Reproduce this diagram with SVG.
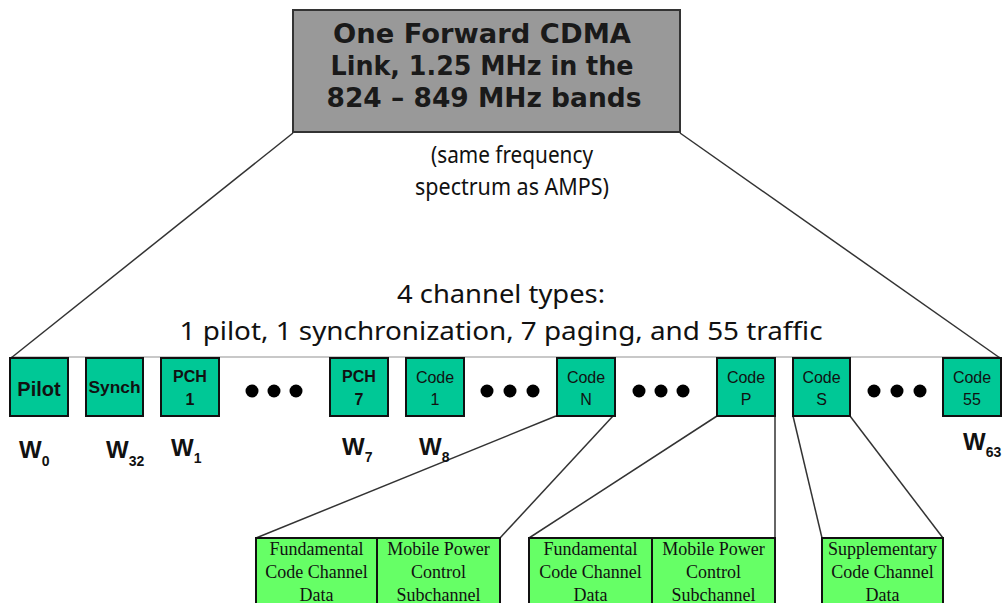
<svg xmlns="http://www.w3.org/2000/svg" width="1007" height="603" viewBox="0 0 1007 603">
  <defs>
    <style>
      .bg { fill: #ffffff; }
      .link-box { fill: #999999; stroke: #333333; stroke-width: 2; }
      .link-text { font-family: "DejaVu Sans", Verdana, sans-serif; font-weight: bold; font-size: 26px; fill: #1a1a1a; text-anchor: middle; }
      .note { font-family: "Noto Sans", "DejaVu Sans", sans-serif; fill: #111111; text-anchor: middle; }
      .ch { fill: #00c896; stroke: #111111; stroke-width: 2; }
      .ch-bold { font-family: "Liberation Sans", Arial, sans-serif; font-weight: bold; fill: #111111; text-anchor: middle; }
      .ch-code { font-family: "Liberation Sans", Arial, sans-serif; font-size: 16px; fill: #111111; text-anchor: middle; }
      .dot { fill: #000000; }
      .walsh { font-family: "Liberation Sans", Arial, sans-serif; font-weight: bold; font-size: 24px; fill: #111111; }
      .sub { fill: #66ff66; stroke: #111111; stroke-width: 2; }
      .sub-text { font-family: "Liberation Serif", "Times New Roman", serif; font-size: 18px; fill: #111111; text-anchor: middle; }
      .wire { fill: none; stroke: #333333; stroke-width: 1.5; }
      .rail { fill: none; stroke: #c8c8c8; stroke-width: 2; }
    </style>
  </defs>

  <rect class="bg" x="0" y="0" width="1007" height="603"/>

  <!-- fan-out lines -->
  <g id="connectors">
    <line class="rail" x1="11" y1="357" x2="1000" y2="357"/>
    <line class="wire" x1="293" y1="133" x2="11" y2="358"/>
    <line class="wire" x1="680" y1="133" x2="1000" y2="358"/>
    <line class="wire" x1="556" y1="416" x2="256" y2="538"/>
    <line class="wire" x1="613" y1="416" x2="500" y2="538"/>
    <line class="wire" x1="717" y1="416" x2="529" y2="538"/>
    <line class="wire" x1="775" y1="416" x2="775" y2="538"/>
    <line class="wire" x1="793" y1="416" x2="822" y2="538"/>
    <line class="wire" x1="850" y1="416" x2="943" y2="538"/>
  </g>

  <!-- forward link carrier -->
  <g id="forward-link">
    <rect class="link-box" x="293" y="10" width="387" height="122"/>
    <text class="link-text" x="482" y="43" textLength="298" lengthAdjust="spacingAndGlyphs">One Forward CDMA</text>
    <text class="link-text" x="482" y="75" textLength="303" lengthAdjust="spacingAndGlyphs">Link, 1.25 MHz in the</text>
    <text class="link-text" x="484" y="107" textLength="315" lengthAdjust="spacingAndGlyphs">824 – 849 MHz bands</text>
  </g>

  <g id="spectrum-note">
    <text class="note" x="512" y="163" font-size="23" textLength="162" lengthAdjust="spacingAndGlyphs">(same frequency</text>
    <text class="note" x="512" y="195" font-size="23" textLength="194" lengthAdjust="spacingAndGlyphs">spectrum as AMPS)</text>
  </g>

  <g id="channel-summary">
    <text class="note" x="501" y="303" font-size="26" textLength="208" lengthAdjust="spacingAndGlyphs">4 channel types:</text>
    <text class="note" x="501" y="340" font-size="26" textLength="643" lengthAdjust="spacingAndGlyphs">1 pilot, 1 synchronization, 7 paging, and 55 traffic</text>
  </g>

  <!-- code channels -->
  <g id="pilot">
    <rect class="ch" x="10" y="358" width="58" height="58"/>
    <text class="ch-bold" x="39" y="396" font-size="20">Pilot</text>
  </g>
  <g id="synch">
    <rect class="ch" x="86" y="358" width="57" height="58"/>
    <text class="ch-bold" x="114.5" y="393" font-size="16" textLength="52" lengthAdjust="spacingAndGlyphs">Synch</text>
  </g>
  <g id="pch-1">
    <rect class="ch" x="161" y="358" width="58" height="58"/>
    <text class="ch-bold" x="190" y="382" font-size="16">PCH</text>
    <text class="ch-bold" x="190" y="405" font-size="16">1</text>
  </g>
  <g id="dots-1">
    <circle class="dot" cx="252" cy="391" r="6.5"/>
    <circle class="dot" cx="274" cy="391" r="6.5"/>
    <circle class="dot" cx="296" cy="391" r="6.5"/>
  </g>
  <g id="pch-7">
    <rect class="ch" x="330" y="358" width="58" height="58"/>
    <text class="ch-bold" x="359" y="382" font-size="16">PCH</text>
    <text class="ch-bold" x="359" y="405" font-size="16">7</text>
  </g>
  <g id="code-1">
    <rect class="ch" x="406" y="358" width="58" height="58"/>
    <text class="ch-code" x="435" y="383">Code</text>
    <text class="ch-code" x="435" y="405">1</text>
  </g>
  <g id="dots-2">
    <circle class="dot" cx="487" cy="391" r="6.5"/>
    <circle class="dot" cx="510" cy="391" r="6.5"/>
    <circle class="dot" cx="533" cy="391" r="6.5"/>
  </g>
  <g id="code-n">
    <rect class="ch" x="557" y="358" width="58" height="58"/>
    <text class="ch-code" x="586" y="383">Code</text>
    <text class="ch-code" x="586" y="405">N</text>
  </g>
  <g id="dots-3">
    <circle class="dot" cx="639" cy="391" r="6.5"/>
    <circle class="dot" cx="661" cy="391" r="6.5"/>
    <circle class="dot" cx="683" cy="391" r="6.5"/>
  </g>
  <g id="code-p">
    <rect class="ch" x="717" y="358" width="58" height="58"/>
    <text class="ch-code" x="746" y="383">Code</text>
    <text class="ch-code" x="746" y="405">P</text>
  </g>
  <g id="code-s">
    <rect class="ch" x="793" y="358" width="57" height="58"/>
    <text class="ch-code" x="821.5" y="383">Code</text>
    <text class="ch-code" x="821.5" y="405">S</text>
  </g>
  <g id="dots-4">
    <circle class="dot" cx="874" cy="391" r="6.5"/>
    <circle class="dot" cx="897" cy="391" r="6.5"/>
    <circle class="dot" cx="920" cy="391" r="6.5"/>
  </g>
  <g id="code-55">
    <rect class="ch" x="943" y="358" width="58" height="58"/>
    <text class="ch-code" x="972" y="383">Code</text>
    <text class="ch-code" x="972" y="405">55</text>
  </g>

  <!-- Walsh code labels -->
  <g id="walsh-labels">
    <text class="walsh" x="19" y="458">W<tspan font-size="14" dy="8">0</tspan></text>
    <text class="walsh" x="106" y="458">W<tspan font-size="14" dy="8">32</tspan></text>
    <text class="walsh" x="171" y="456">W<tspan font-size="14" dy="7">1</tspan></text>
    <text class="walsh" x="342" y="455">W<tspan font-size="14" dy="7">7</tspan></text>
    <text class="walsh" x="419" y="455">W<tspan font-size="14" dy="7">8</tspan></text>
    <text class="walsh" x="963" y="450">W<tspan font-size="14" dy="7">63</tspan></text>
  </g>

  <!-- traffic channel breakdowns -->
  <g id="code-n-detail">
    <rect class="sub" x="256" y="538" width="121" height="70"/>
    <rect class="sub" x="377" y="538" width="123" height="70"/>
    <text class="sub-text" x="316.5" y="555">Fundamental</text>
    <text class="sub-text" x="316.5" y="578">Code Channel</text>
    <text class="sub-text" x="316.5" y="601">Data</text>
    <text class="sub-text" x="438.5" y="555">Mobile Power</text>
    <text class="sub-text" x="438.5" y="578">Control</text>
    <text class="sub-text" x="438.5" y="601">Subchannel</text>
  </g>
  <g id="code-p-detail">
    <rect class="sub" x="529" y="538" width="123" height="70"/>
    <rect class="sub" x="652" y="538" width="123" height="70"/>
    <text class="sub-text" x="590.5" y="555">Fundamental</text>
    <text class="sub-text" x="590.5" y="578">Code Channel</text>
    <text class="sub-text" x="590.5" y="601">Data</text>
    <text class="sub-text" x="713.5" y="555">Mobile Power</text>
    <text class="sub-text" x="713.5" y="578">Control</text>
    <text class="sub-text" x="713.5" y="601">Subchannel</text>
  </g>
  <g id="code-s-detail">
    <rect class="sub" x="822" y="538" width="121" height="70"/>
    <text class="sub-text" x="882.5" y="555">Supplementary</text>
    <text class="sub-text" x="882.5" y="578">Code Channel</text>
    <text class="sub-text" x="882.5" y="601">Data</text>
  </g>
</svg>
